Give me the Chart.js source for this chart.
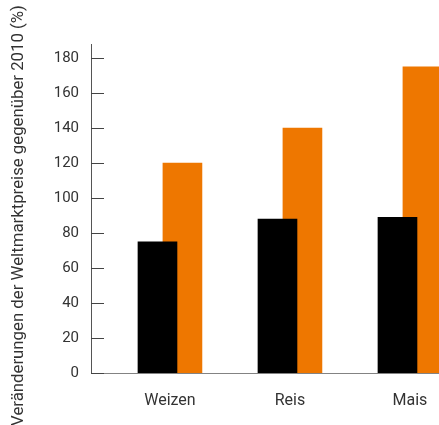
<!DOCTYPE html>
<html>
<head>
<meta charset="utf-8">
<script src="https://cdn.jsdelivr.net/npm/chart.js@4/dist/chart.umd.min.js"></script>
<style>
  html, body { margin: 0; padding: 0; background: #fff; }
  #wrap { width: 439px; height: 425px; }
</style>
</head>
<body>
<div id="wrap"><canvas id="c" width="439" height="425"></canvas></div>
<script>
// Grain crops and price change vs. 2010 (%)
const categories = ['Weizen', 'Reis', 'Mais'];
const seriesDark = [75, 88, 89];      // black bars
const seriesOrange = [120, 140, 175]; // orange bars
const yTicks = [0, 20, 40, 60, 80, 100, 120, 140, 160, 180];
const yTitle = 'Veränderungen der Weltmarktpreise gegenüber 2010 (%)';

const FONT = 'Roboto, "Liberation Sans", sans-serif';
const PAIR_SHIFT = 0.104; // half-offset between the two overlapping bars, in category units

// short tick marks drawn inward from the y axis, plus the rotated axis title
const yAxisDecor = {
  id: 'yAxisDecor',
  afterDraw(chart) {
    const y = chart.scales.y;
    const ctx = chart.ctx;
    ctx.save();
    ctx.strokeStyle = '#444';
    ctx.lineWidth = 1;
    yTicks.forEach(v => {
      const py = Math.round(y.getPixelForValue(v)) + 0.5;
      ctx.beginPath();
      ctx.moveTo(y.right, py);
      ctx.lineTo(y.right + 13, py);
      ctx.stroke();
    });
    ctx.translate(19, chart.height / 2 + 3);
    ctx.rotate(-Math.PI / 2);
    ctx.fillStyle = '#333';
    ctx.font = '16.8px ' + FONT;
    ctx.textAlign = 'center';
    ctx.textBaseline = 'middle';
    ctx.fillText(yTitle, 0, 0);
    ctx.restore();
  }
};

new Chart(document.getElementById('c'), {
  type: 'bar',
  data: {
    datasets: [
      {
        data: seriesDark.map((v, i) => ({ x: i - PAIR_SHIFT, y: v })),
        backgroundColor: '#000000',
        grouped: false,
        barThickness: 39
      },
      {
        data: seriesOrange.map((v, i) => ({ x: i + PAIR_SHIFT, y: v })),
        backgroundColor: '#ee7700',
        grouped: false,
        barThickness: 39
      }
    ]
  },
  options: {
    responsive: false,
    animation: false,
    layout: { padding: { top: 44, right: 0, left: 0, bottom: 0 } },
    plugins: { legend: { display: false }, tooltip: { enabled: false } },
    scales: {
      x: {
        type: 'linear',
        offset: false,
        min: -0.658,
        max: 2.242,
        z: 1,
        grid: { display: false, drawTicks: false },
        border: { color: 'rgba(90,90,90,0.75)', width: 1 },
        afterBuildTicks(scale) {
          scale.ticks = categories.map((_, i) => ({ value: i }));
        },
        ticks: {
          autoSkip: false,
          maxRotation: 0,
          padding: 18,
          color: '#333',
          font: { family: FONT, size: 16 },
          callback: v => categories[v]
        },
        afterFit(scale) {
          scale.height = 52;
          scale.paddingLeft = 0;
          scale.paddingRight = 0;
        }
      },
      y: {
        min: 0,
        max: 188,
        grid: { display: false, drawTicks: false },
        border: { color: '#555', width: 1 },
        afterBuildTicks(scale) {
          scale.ticks = yTicks.map(v => ({ value: v }));
        },
        ticks: {
          padding: 12,
          color: '#333',
          font: { family: FONT, size: 15 }
        },
        afterFit(scale) {
          scale.width = 91;
          scale.paddingTop = 0;
          scale.paddingBottom = 0;
        }
      }
    }
  },
  plugins: [yAxisDecor]
});
</script>
</body>
</html>
